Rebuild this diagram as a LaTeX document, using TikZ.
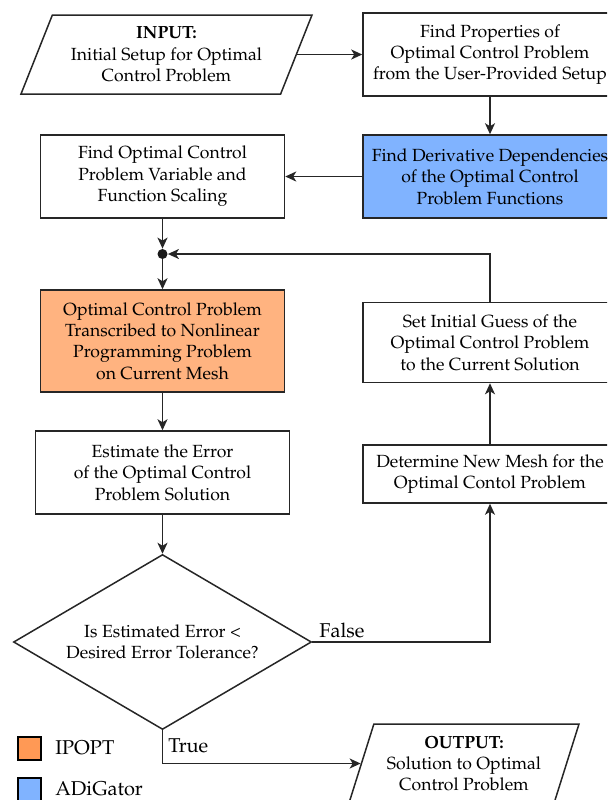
\documentclass[tikz,border=0pt]{standalone}
\usepackage[T1]{fontenc}
\usepackage{mathpazo}
\usetikzlibrary{shapes.geometric, arrows.meta}

\definecolor{ipoptfill}{HTML}{FFB380}
\definecolor{ipoptkey}{HTML}{FF9955}
\definecolor{adigfill}{HTML}{80B3FF}

\begin{document}
\begin{tikzpicture}[x=0.5pt, y=-0.5pt,
  every node/.style={font=\fontsize{8.8}{10.7}\selectfont},
  proc/.style={draw=black!85, line width=0.75pt, rectangle, align=center,
    inner sep=2pt, minimum width=127pt, minimum height=41.5pt},
  io/.style={draw=black!85, line width=0.75pt, trapezium, trapezium stretches body,
    align=center, inner xsep=2pt, inner ysep=1pt, minimum height=39.5pt},
  decision/.style={draw=black!85, line width=0.75pt, diamond, aspect=1.7,
    align=center, inner sep=0pt, minimum width=149pt, minimum height=87.5pt},
  junction/.style={circle, fill=black!90, minimum size=5pt, inner sep=0pt},
  flow/.style={draw=black!85, line width=0.8pt,
    -{Stealth[length=5.5pt, width=5pt, inset=1.5pt]}},
  keybox/.style={draw=black, line width=1pt, minimum size=11.5pt, inner sep=0pt},
  lbl/.style={font=\fontsize{10}{12}\selectfont, inner sep=0pt}
]
\useasboundingbox (0,0) rectangle (607,800);
\clip (0,0) rectangle (607,800);

% input / output
\node[io, trapezium left angle=62, trapezium right angle=118, minimum width=145.5pt]
  (inp) at (166.5,54.5) {\textbf{INPUT:}\\Initial Setup for Optimal\\Control Problem};
\node[io, trapezium left angle=67.3, trapezium right angle=112.7, minimum width=115pt]
  (out) at (464,763.5) {\textbf{OUTPUT:}\\Solution to Optimal\\Control Problem};

% process boxes (left column centred at x = 162.5, right column at x = 490)
\node[proc] (prop) at (490,54.7)
  {Find Properties of\\Optimal Control Problem\\from the User-Provided Setup};
\node[proc, fill=adigfill] (deriv) at (490,176.5)
  {Find Derivative Dependencies\\of the Optimal Control\\Problem Functions};
\node[proc, minimum width=122pt] (scale) at (162.5,176.5)
  {Find Optimal Control\\Problem Variable and\\Function Scaling};
\node[junction] (dot) at (162.5,254) {};
\node[proc, fill=ipoptfill, minimum width=122pt, minimum height=51pt] (trans) at (162.5,341)
  {Optimal Control Problem\\Transcribed to Nonlinear\\Programming Problem\\on Current Mesh};
\node[proc, minimum height=40pt] (guess) at (490,342.5)
  {Set Initial Guess of the\\Optimal Control Problem\\to the Current Solution};
\node[proc] (est) at (162.5,472.5)
  {Estimate the Error\\of the Optimal Control\\Problem Solution};
\node[proc, minimum height=29pt] (mesh) at (490,474)
  {Determine New Mesh for the\\Optimal Contol Problem};
\node[decision] (dia) at (162.5,642)
  {Is Estimated Error \textless\\Desired Error Tolerance?};

% connectors
\draw[flow] (inp.east) -- (inp.east -| prop.west);
\draw[flow] (prop.south) -- (deriv.north);
\draw[flow] (deriv.west) -- (scale.east);
\draw[flow] (scale.south) -- (dot.north);
\draw[flow] (guess.north) |- (dot.east);
\draw[flow] (dot.south) -- (trans.north);
\draw[flow] (trans.south) -- (est.north);
\draw[flow] (est.south) -- (dia.north);
\draw[flow] (dia.east) -| (mesh.south);
\draw[flow] (mesh.north) -- (guess.south);
\draw[flow] (dia.south) |- (out.west);

\node[lbl, anchor=west] (flbl) at (319,630) {False};
\node[lbl, anchor=west] (tlbl) at (168,746) {True};

% legend
\node[keybox, fill=ipoptkey] (k1) at (29,748) {};
\node[keybox, fill=adigfill] (k2) at (29,789) {};
\node[lbl, anchor=west] (k1t) at (55,748) {IPOPT};
\node[lbl, anchor=west] (k2t) at (55,789) {ADiGator};
\end{tikzpicture}
\end{document}
